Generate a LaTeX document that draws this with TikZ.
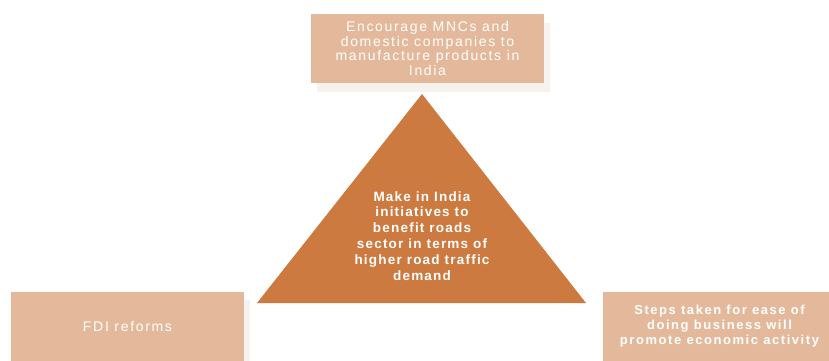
\documentclass[tikz,border=0pt]{standalone}
\usepackage{fontspec}
\setmainfont{Liberation Sans}
\newfontfamily\boxfont[LetterSpace=12]{Liberation Sans}
\newfontfamily\trifont[LetterSpace=9]{Liberation Sans}
\definecolor{boxtan}{HTML}{E4B99B}
\definecolor{triorange}{HTML}{CD7A40}
\definecolor{boxshade}{HTML}{F8F2EE}
\begin{document}
\begin{tikzpicture}[x=1pt,y=-1pt,
		bx/.style={fill=boxtan,minimum width=233pt,minimum height=69pt,inner
					sep=0pt,align=center,text=white,font=\boxfont\fontsize{14}{14.7}\selectfont},
		shade/.style={fill=boxshade,minimum width=233pt,minimum height=69pt,inner sep=0pt}]
	\useasboundingbox (0,0) rectangle (829,360);
	% shadows
	\node[shade] (topsh) at (433.5,57) {};
	\node[shade] (leftsh) at (133.5,334.5) {};
	\node[shade] (rightsh) at (725.5,334.5) {};
	% boxes
	\node[bx] (top) at (427.5,48.5) {Encourage MNCs and\\domestic companies to\\manufacture products in\\India};
	\node[bx] (left) at (127.5,326.5) {FDI reforms};
	\node[bx,font=\boxfont\bfseries\fontsize{13}{15}\selectfont] (right) at (719.5,326.5)
		{Steps taken for ease of\\doing business will\\promote economic activity};
	% triangle
	\coordinate (apex) at (422,94);
	\coordinate (bl) at (257,303);
	\coordinate (br) at (586,303);
	\fill[triorange] (apex) -- (bl) -- (br) -- cycle;
	\node[align=center,text=white,font=\trifont\bfseries\fontsize{13.5}{15.9}\selectfont]
		(core) at (422,236) {Make in India\\initiatives to\\benefit roads\\sector in terms of\\higher road traffic\\demand};
\end{tikzpicture}
\end{document}
